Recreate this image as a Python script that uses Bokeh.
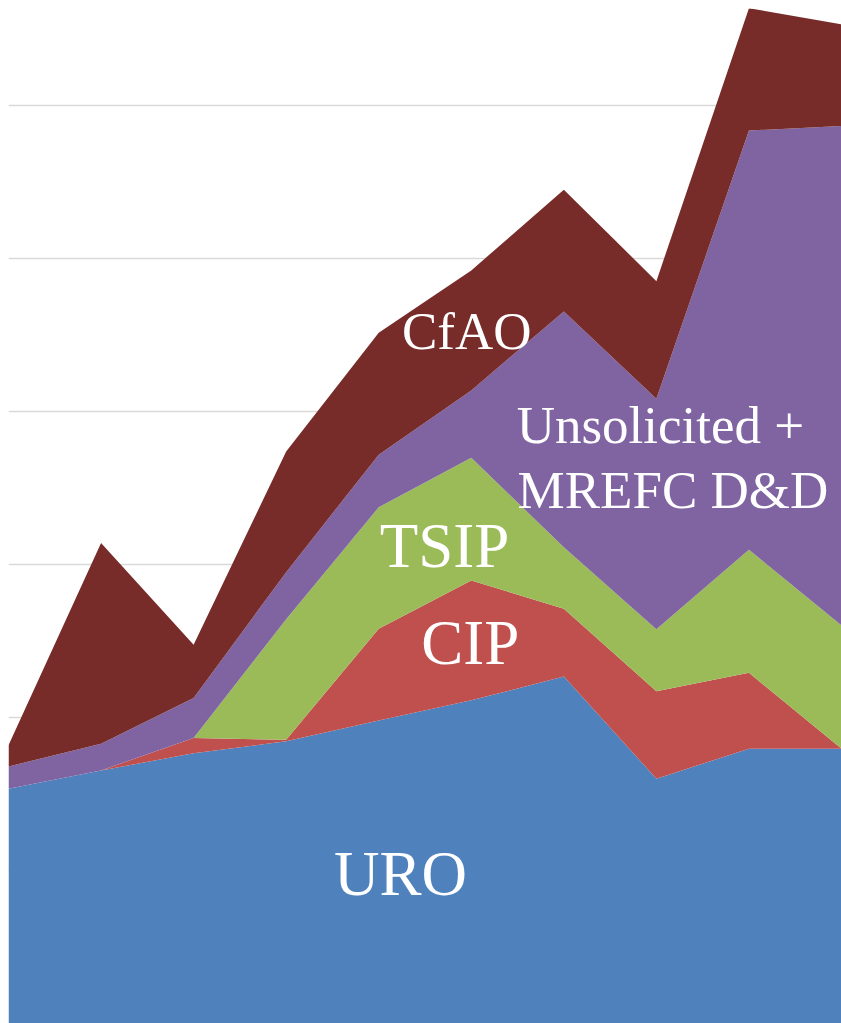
from bokeh.plotting import figure
from bokeh.models import ColumnDataSource, FixedTicker
from bokeh.core.properties import value
from bokeh.embed import file_html
from bokeh.resources import INLINE

# Data (10 time points, stacked funding categories)
x_idx = [0, 1, 2, 3, 4, 5, 6, 7, 8, 9]
uro = [7.67, 8.27, 8.83, 9.22, 9.90, 10.56, 11.34, 8.00, 8.98, 8.98]
cip = [0.0, 0.0, 0.50, 0.05, 3.00, 3.92, 2.21, 2.86, 2.48, 0.0]
tsip = [0.0, 0.0, 0.0, 3.94, 3.97, 4.01, 2.01, 2.02, 4.02, 4.03]
unsol = [0.73, 0.87, 1.31, 1.54, 1.72, 2.20, 7.71, 7.54, 13.70, 16.32]
cfao = [0.69, 6.56, 1.74, 3.94, 3.98, 3.92, 3.98, 3.84, 4.00, 3.32]

series_names = ["URO", "CIP", "TSIP", "Unsolicited", "CfAO"]
colors = ["#4F81BD", "#C0504D", "#9BBB59", "#8064A2", "#772C2A"]
grid_ticks = [5, 10, 15, 20, 25, 30]

source = ColumnDataSource(dict(x=x_idx, URO=uro, CIP=cip, TSIP=tsip,
                               Unsolicited=unsol, CfAO=cfao))

p = figure(width=841, height=1023, x_range=(0, 9), y_range=(0, 33.17),
           output_backend="svg", toolbar_location=None,
           min_border_left=8, min_border_top=8, min_border_right=0,
           min_border_bottom=0)
p.outline_line_color = None
p.background_fill_color = "white"
p.border_fill_color = "white"
p.xaxis.visible = False
p.yaxis.visible = False
p.xgrid.visible = False
p.ygrid.ticker = FixedTicker(ticks=grid_ticks)
p.ygrid.grid_line_color = "#D9D9D9"
p.ygrid.grid_line_width = 1.6

p.varea_stack(stackers=series_names, x="x", color=colors, source=source)

font = value("Liberation Serif")
labels = [
    ("URO", 4.235, 4.88, "center", "63px"),
    ("CIP", 4.99, 12.45, "center", "63px"),
    ("TSIP", 4.71, 15.6, "center", "63px"),
    ("CfAO", 4.95, 22.62, "center", "53px"),
    ("Unsolicited +", 5.49, 19.57, "left", "53px"),
    ("MREFC D&D", 5.50, 17.44, "left", "53px"),
]
for t, lx, ly, al, fs in labels:
    p.text(x=[lx], y=[ly], text=[t], text_font=font, text_font_size=fs,
           text_color="white", text_align=al, text_baseline="alphabetic")

open("out.html", "w").write(file_html(p, INLINE))
